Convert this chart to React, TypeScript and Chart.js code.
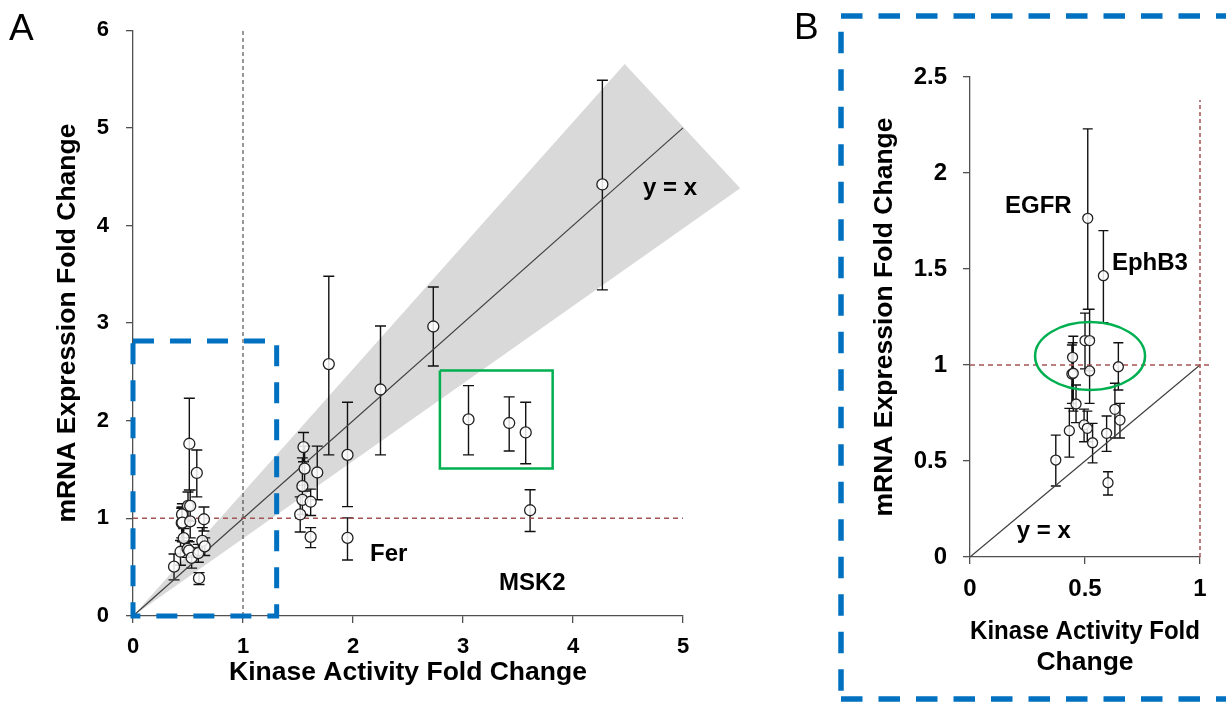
import React, { useEffect, useRef } from 'react';
import { Chart, registerables } from 'chart.js';
Chart.register(...registerables);

// ---- Data ----
// Low-activity cluster (plotted in A, magnified in B)
const lowX = [0.512, 0.58, 0.50, 0.52, 0.446, 0.443, 0.449, 0.52, 0.645, 0.461, 0.432, 0.373, 0.496, 0.51, 0.533, 0.594, 0.63, 0.652, 0.60];
const lowY = [1.764, 1.465, 1.127, 1.127, 1.04, 0.953, 0.957, 0.969, 0.991, 0.797, 0.658, 0.505, 0.688, 0.67, 0.595, 0.644, 0.769, 0.713, 0.387];
const lowErrLo = [1.29, 1.22, 0.98, 0.97, 0.964, 0.80, 0.76, 0.80, 0.87, 0.70, 0.52, 0.37, 0.60, 0.60, 0.49, 0.55, 0.62, 0.62, 0.323];
const lowErrHi = [2.23, 1.70, 1.27, 1.29, 1.116, 1.104, 1.15, 1.14, 1.116, 0.896, 0.774, 0.635, 0.77, 0.76, 0.696, 0.734, 0.905, 0.80, 0.444];

// Remaining kinases (panel A only)
const highX = [4.267, 2.73, 2.25, 1.78, 1.95, 1.95, 3.05, 3.42, 3.57, 3.61, 1.55, 1.56, 1.675, 1.54, 1.54, 1.615, 1.52, 1.615];
const highY = [4.42, 2.965, 2.32, 2.58, 1.65, 0.80, 2.013, 1.977, 1.88, 1.083, 1.73, 1.51, 1.47, 1.33, 1.19, 1.17, 1.04, 0.81];
const highErrLo = [3.34, 2.56, 1.65, 1.65, 1.12, 0.573, 1.65, 1.69, 1.56, 0.865, 1.58, 1.28, 1.19, 1.04, 1.04, 1.03, 0.86, 0.70];
const highErrHi = [5.487, 3.37, 2.97, 3.48, 2.19, 1.005, 2.36, 2.244, 2.19, 1.293, 1.88, 1.74, 1.74, 1.62, 1.34, 1.30, 1.22, 0.905];

// Fold-change cone around y = x
const coneX = [0, 4.47, 5.52];
const coneY = [0, 5.655, 4.382];

// Tick values
const xTicksA = [0, 1, 2, 3, 4, 5];
const yTicksA = [0, 1, 2, 3, 4, 5, 6];
const xTicksB = [0, 0.5, 1];
const yTicksB = [0, 0.5, 1, 1.5, 2, 2.5];

// Reference lines / highlight shapes (data coordinates)
const identityA = [0, 5];
const identityB = [0, 1];
const blueBoxA = { x0: 0, x1: 1.306, y0: 0, y1: 2.817 };
const greenBoxA = { x0: 2.79, x1: 3.815, y0: 1.51, y1: 2.515 };
const ellipseB = { cx: 0.522, cy: 1.047, rx: 0.239, ry: 0.177 };

// Annotations (data coordinates)
const labelsA = [
  { text: 'y = x', x: 4.636, y: 4.31 },
  { text: 'Fer', x: 2.155, y: 0.563 },
  { text: 'MSK2', x: 3.327, y: 0.271 },
];
const labelsB = [
  { text: 'EGFR', x: 0.152, y: 1.79 },
  { text: 'EphB3', x: 0.617, y: 1.495 },
  { text: 'y = x', x: 0.203, y: 0.099 },
];

const FONT = "'Liberation Sans', Arial, sans-serif";
const AXIS = '#505050';

function errorBars(xs: number[], lo: number[], hi: number[], cap: number) {
  return (chart: any) => {
    const { ctx } = chart;
    const sx = chart.scales.x, sy = chart.scales.y;
    ctx.save();
    ctx.strokeStyle = '#111';
    ctx.lineWidth = 1.4;
    ctx.beginPath();
    for (let i = 0; i < xs.length; i++) {
      const px = sx.getPixelForValue(xs[i]);
      const p0 = sy.getPixelForValue(lo[i]);
      const p1 = sy.getPixelForValue(hi[i]);
      ctx.moveTo(px, p0); ctx.lineTo(px, p1);
      ctx.moveTo(px - cap, p0); ctx.lineTo(px + cap, p0);
      ctx.moveTo(px - cap, p1); ctx.lineTo(px + cap, p1);
    }
    ctx.stroke();
    ctx.restore();
  };
}

function drawLabels(chart: any, labels: { text: string; x: number; y: number }[]) {
  const { ctx } = chart;
  const sx = chart.scales.x, sy = chart.scales.y;
  ctx.save();
  ctx.fillStyle = '#000';
  ctx.font = `bold 24px ${FONT}`;
  ctx.textAlign = 'left';
  ctx.textBaseline = 'alphabetic';
  labels.forEach((l) => ctx.fillText(l.text, sx.getPixelForValue(l.x), sy.getPixelForValue(l.y)));
  ctx.restore();
}

function boxData(b: { x0: number; x1: number; y0: number; y1: number }) {
  return [
    { x: b.x0, y: b.y1 }, { x: b.x1, y: b.y1 }, { x: b.x1, y: b.y0 }, { x: b.x0, y: b.y0 }, { x: b.x0, y: b.y1 },
  ];
}

function lineDs(data: any[], color: string, width: number, dash: number[], order: number) {
  return {
    data, showLine: true, borderColor: color, borderWidth: width, borderDash: dash,
    pointRadius: 0, fill: false, clip: false as any, order, tension: 0,
  };
}

function scaleOpts(opts: {
  min: number; max: number; ticks: number[]; size: number; fit: number; horizontal: boolean;
  title: string | string[]; titlePad: any; tickPad: number;
}) {
  return {
    type: 'linear' as const,
    min: opts.min,
    max: opts.max,
    afterBuildTicks: (s: any) => { s.ticks = opts.ticks.map((v) => ({ value: v })); },
    afterFit: (s: any) => { if (opts.horizontal) s.height = opts.fit; else s.width = opts.fit; },
    border: { display: true, color: AXIS, width: 1.3 },
    grid: { display: true, drawOnChartArea: false, drawTicks: true, tickLength: 7, color: AXIS, lineWidth: 1.3 },
    ticks: {
      color: '#000', font: { family: FONT, size: opts.size, weight: 'bold' as const }, padding: opts.tickPad,
      maxRotation: 0, autoSkip: false, callback: (v: any) => String(Number(v)),
    },
    title: {
      display: true, text: opts.title, color: '#000',
      font: { family: FONT, size: 26.5, weight: 'bold' as const, lineHeight: 1.2 }, padding: opts.titlePad,
    },
  };
}

function PanelA() {
  const ref = useRef<HTMLCanvasElement>(null);
  useEffect(() => {
    const pts = [...lowX.map((x, i) => ({ x, y: lowY[i] })), ...highX.map((x, i) => ({ x, y: highY[i] }))];
    const allX = [...lowX, ...highX];
    const allLo = [...lowErrLo, ...highErrLo];
    const allHi = [...lowErrHi, ...highErrHi];
    const bars = errorBars(allX, allLo, allHi, 5.5);
    const chart = new Chart(ref.current!, {
      type: 'scatter',
      data: {
        datasets: [
          {
            data: pts, pointRadius: 5.5, pointBorderWidth: 1.3, pointBorderColor: '#222',
            pointBackgroundColor: 'rgba(255,255,255,0.85)', showLine: false, order: 0,
          } as any,
          lineDs(identityA.map((v) => ({ x: v, y: v })), '#404040', 1.2, [], 5),
          lineDs([{ x: 1, y: 0 }, { x: 1, y: 6 }], '#333333', 1, [4, 3], 4),
          lineDs([{ x: 0, y: 1 }, { x: 5, y: 1 }], '#a65353', 1.5, [5, 4], 4),
          lineDs(boxData(blueBoxA), '#0070c0', 5, [21, 16], 2),
          lineDs(boxData(greenBoxA), '#00b050', 2.5, [], 2),
        ],
      },
      options: {
        animation: false,
        responsive: false,
        maintainAspectRatio: false,
        devicePixelRatio: 1,
        events: [],
        layout: { padding: { left: 0, top: 19, right: 97, bottom: 0 } },
        plugins: { legend: { display: false }, tooltip: { enabled: false } },
        scales: {
          x: scaleOpts({ min: 0, max: 5, ticks: xTicksA, size: 22, fit: 86, horizontal: true, title: 'Kinase Activity Fold Change', titlePad: { top: 0, bottom: 13 }, tickPad: 11 }),
          y: scaleOpts({ min: 0, max: 6, ticks: yTicksA, size: 22, fit: 133, horizontal: false, title: 'mRNA Expression Fold Change', titlePad: { top: 52, bottom: 0 }, tickPad: 17 }),
        },
      },
      plugins: [
        {
          id: 'decorA',
          beforeDatasetsDraw(c: any) {
            const { ctx } = c;
            const sx = c.scales.x, sy = c.scales.y;
            ctx.save();
            ctx.fillStyle = '#d9d9d9';
            ctx.beginPath();
            coneX.forEach((x, i) => {
              const px = sx.getPixelForValue(x), py = sy.getPixelForValue(coneY[i]);
              if (i === 0) ctx.moveTo(px, py); else ctx.lineTo(px, py);
            });
            ctx.closePath();
            ctx.fill();
            ctx.restore();
            bars(c);
          },
          afterDatasetsDraw(c: any) {
            drawLabels(c, labelsA);
            const { ctx } = c;
            ctx.save();
            ctx.fillStyle = '#000';
            ctx.font = `37px ${FONT}`;
            ctx.textBaseline = 'alphabetic';
            ctx.fillText('A', 9, 40);
            ctx.restore();
          },
        },
      ],
    } as any);
    return () => chart.destroy();
  }, []);
  return <canvas ref={ref} width={780} height={702} style={{ position: 'absolute', left: 0, top: 0, width: 780, height: 702 }} />;
}

function PanelB() {
  const ref = useRef<HTMLCanvasElement>(null);
  useEffect(() => {
    const pts = lowX.map((x, i) => ({ x, y: lowY[i] }));
    const bars = errorBars(lowX, lowErrLo, lowErrHi, 5);
    const chart = new Chart(ref.current!, {
      type: 'scatter',
      data: {
        datasets: [
          {
            data: pts, pointRadius: 5, pointBorderWidth: 1.3, pointBorderColor: '#222',
            pointBackgroundColor: 'rgba(255,255,255,0.85)', showLine: false, order: 0,
          } as any,
          lineDs(identityB.map((v) => ({ x: v, y: v })), '#404040', 1.2, [], 5),
          lineDs([{ x: 1, y: 0 }, { x: 1, y: 2.38 }], '#a65353', 1.5, [4, 3], 4),
          lineDs([{ x: 0, y: 1 }, { x: 1.04, y: 1 }], '#a65353', 1.5, [5, 4], 4),
        ],
      },
      options: {
        animation: false,
        responsive: false,
        maintainAspectRatio: false,
        devicePixelRatio: 1,
        events: [],
        layout: { padding: { left: 0, top: 77, right: 26, bottom: 0 } },
        plugins: { legend: { display: false }, tooltip: { enabled: false } },
        scales: {
          x: scaleOpts({ min: 0, max: 1, ticks: xTicksB, size: 24, fit: 145, horizontal: true, title: ['Kinase Activity Fold', 'Change'], titlePad: { top: 0, bottom: 23 }, tickPad: 11 }),
          y: scaleOpts({ min: 0, max: 2.5, ticks: yTicksB, size: 24, fit: 190, horizontal: false, title: 'mRNA Expression Fold Change', titlePad: { top: 89, bottom: 0 }, tickPad: 16 }),
        },
      },
      plugins: [
        {
          id: 'decorB',
          beforeDatasetsDraw(c: any) { bars(c); },
          afterDatasetsDraw(c: any) {
            const { ctx } = c;
            const sx = c.scales.x, sy = c.scales.y;
            // green ellipse
            const cx = sx.getPixelForValue(ellipseB.cx), cy = sy.getPixelForValue(ellipseB.cy);
            const rx = sx.getPixelForValue(ellipseB.cx + ellipseB.rx) - cx;
            const ry = cy - sy.getPixelForValue(ellipseB.cy + ellipseB.ry);
            ctx.save();
            ctx.strokeStyle = '#00b050';
            ctx.lineWidth = 2.5;
            ctx.beginPath();
            ctx.ellipse(cx, cy, rx, ry, 0, 0, Math.PI * 2);
            ctx.stroke();
            ctx.restore();
            drawLabels(c, labelsB);
            // panel frame and letter
            ctx.save();
            ctx.strokeStyle = '#0070c0';
            ctx.lineWidth = 5.5;
            ctx.setLineDash([21.5, 16]);
            ctx.beginPath();
            ctx.moveTo(61, 16); ctx.lineTo(470, 16);
            ctx.stroke();
            ctx.lineDashOffset = 21.8;
            ctx.beginPath();
            ctx.moveTo(61, 16); ctx.lineTo(61, 699);
            ctx.stroke();
            ctx.lineDashOffset = 0;
            ctx.beginPath();
            ctx.moveTo(61, 699); ctx.lineTo(470, 699);
            ctx.stroke();
            ctx.setLineDash([]);
            ctx.fillStyle = '#000';
            ctx.font = `37px ${FONT}`;
            ctx.fillText('B', 14, 39);
            ctx.restore();
          },
        },
      ],
    } as any);
    return () => chart.destroy();
  }, []);
  return <canvas ref={ref} width={446} height={702} style={{ position: 'absolute', left: 780, top: 0, width: 446, height: 702 }} />;
}

export default function App() {
  return (
    <div style={{ position: 'fixed', left: 0, top: 0, width: 1226, height: 702, background: '#fff', overflow: 'hidden' }}>
      <PanelA />
      <PanelB />
    </div>
  );
}
